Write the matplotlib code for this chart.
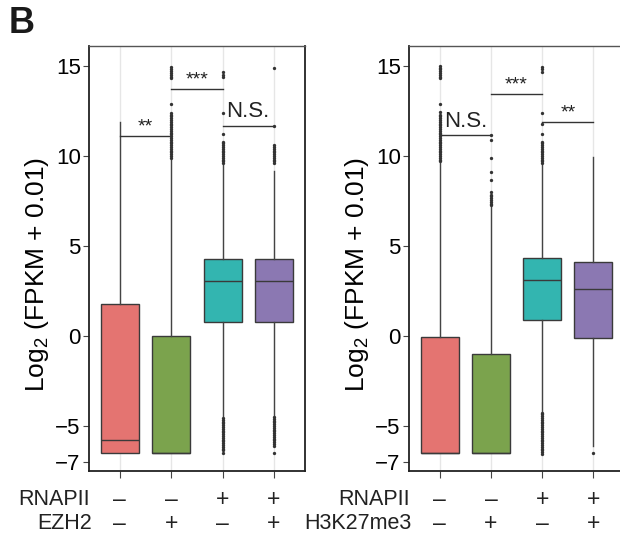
import matplotlib
matplotlib.use("Agg")
import matplotlib.pyplot as plt
import matplotlib.transforms as mtransforms

plt.rcParams["font.family"] = ["Liberation Sans", "DejaVu Sans"]
plt.rcParams["mathtext.fontset"] = "custom"
plt.rcParams["mathtext.rm"] = "Liberation Sans"
plt.rcParams["mathtext.it"] = "Liberation Sans:italic"

colors = ["#e47471", "#7ba34d", "#33b5b0", "#8b78b2"]
row1_signs = ["–", "–", "+", "+"]
row2_signs = ["–", "+", "–", "+"]

# panel 1: RNAPII x EZH2
p1_q1 = [-6.48, -6.48, 0.78, 0.78]
p1_med = [-5.76, -6.48, 3.04, 3.04]
p1_q3 = [1.8, 0.02, 4.3, 4.3]
p1_lo = [-6.48, -6.48, -4.45, -4.45]
p1_hi = [11.9, 9.75, 9.5, 9.17]
p1_fliers = [
    [],
    [9.9, 10.0, 10.1, 10.2, 10.3, 10.4, 10.5, 10.6, 10.7, 10.8, 10.9, 11.0,
     11.1, 11.2, 11.3, 11.4, 11.5, 11.6, 11.7, 11.8, 11.9, 12.0, 12.1, 12.2,
     12.3, 12.4, 12.87, 14.3, 14.4, 14.5, 14.6, 14.7, 14.8, 14.94],
    [-6.48, -6.35, -6.25, -6.15, -6.05, -5.95, -5.85, -5.75, -5.65, -5.55,
     -5.45, -5.35, -5.25, -5.15, -5.05, -4.95, -4.85, -4.75, -4.65, -4.55,
     9.6, 9.7, 9.8, 9.9, 10.0, 10.1, 10.2, 10.3, 10.4, 10.5, 10.6, 10.7,
     10.78, 11.24, 12.36, 14.4, 14.5, 14.67],
    [-6.48, -6.1, -6.0, -5.9, -5.8, -5.7, -5.6, -5.5, -5.4, -5.3, -5.2, -5.1,
     -5.0, -4.9, -4.8, -4.7, -4.6, -4.5,
     9.6, 9.7, 9.8, 9.9, 10.0, 10.1, 10.2, 10.3, 10.4, 10.5, 10.6,
     11.67, 14.9],
]
p1_brackets = [(1, 2, 11.08, "**"), (2, 3, 13.69, "***"), (3, 4, 11.67, "N.S.")]
p1_row2 = "EZH2"

# panel 2: RNAPII x H3K27me3
p2_q1 = [-6.48, -6.48, 0.91, -0.09]
p2_med = [-6.48, -6.48, 3.13, 2.59]
p2_q3 = [-0.07, -1.0, 4.35, 4.09]
p2_lo = [-6.48, -6.48, -4.2, -6.1]
p2_hi = [9.6, 7.17, 9.5, 9.94]
p2_fliers = [
    [9.7, 9.8, 9.9, 10.0, 10.1, 10.2, 10.3, 10.4, 10.5, 10.6, 10.7, 10.8,
     10.9, 11.0, 11.1, 11.2, 11.3, 11.4, 11.5, 11.6, 11.7, 11.8, 11.9, 12.0,
     12.1, 12.2, 12.3, 12.44, 12.87, 14.3, 14.4, 14.5, 14.6, 14.7, 14.8,
     14.9, 15.0],
    [7.25, 7.35, 7.45, 7.55, 7.65, 7.75, 7.85, 8.0, 8.65, 9.11, 9.86, 10.87,
     11.15],
    [-6.53, -6.45, -6.35, -6.25, -6.15, -6.05, -5.95, -5.85, -5.75, -5.65,
     -5.55, -5.45, -5.35, -5.25, -5.15, -5.05, -4.95, -4.85, -4.75, -4.65,
     -4.55, -4.45, -4.35, -4.25,
     9.6, 9.7, 9.8, 9.9, 10.0, 10.1, 10.2, 10.3, 10.4, 10.5, 10.6, 10.7,
     10.78, 11.24, 11.8, 12.39, 14.67, 14.8, 14.94],
    [-6.48],
]
p2_brackets = [(1, 2, 11.15, "N.S."), (2, 3, 13.44, "***"), (3, 4, 11.86, "**")]
p2_row2 = "H3K27me3"

yticks = [-7, -5, 0, 5, 10, 15]


def draw_panel(ax, q1, med, q3, lo, hi, fliers, brackets, row2_name):
    stats = []
    for i in range(4):
        stats.append({"q1": q1[i], "med": med[i], "q3": q3[i],
                      "whislo": lo[i], "whishi": hi[i], "fliers": fliers[i]})
    for x in range(1, 5):
        ax.axvline(x, color="#e6e6e6", lw=1.0, zorder=0)
    bp = ax.bxp(stats, positions=[1, 2, 3, 4], widths=0.74, patch_artist=True,
                showcaps=False,
                boxprops=dict(edgecolor="#3a3a3a", linewidth=1.0),
                medianprops=dict(color="#3a3a3a", linewidth=1.0),
                whiskerprops=dict(color="#444444", linewidth=1.0),
                flierprops=dict(marker="o", markersize=2.4,
                                markerfacecolor="#333333",
                                markeredgecolor="none"))
    for patch, c in zip(bp["boxes"], colors):
        patch.set_facecolor(c)
    for x0, x1, y, label in brackets:
        ax.plot([x0, x1], [y, y], color="#333333", lw=1.0)
        if label == "N.S.":
            ax.text((x0 + x1) / 2, y + 0.2, label, ha="center", va="bottom",
                    fontsize=16, color="#222222")
        else:
            ax.text((x0 + x1) / 2, y + 0.05, label, ha="center", va="bottom",
                    fontsize=14, color="#222222")
    ax.set_xlim(0.4, 4.6)
    ax.set_ylim(-7.5, 16.1)
    ax.set_yticks(yticks)
    ax.set_yticklabels([str(v).replace("-", "\u2212") for v in yticks])
    ax.set_xticks([1, 2, 3, 4])
    ax.set_xticklabels([])
    ax.tick_params(axis="y", labelsize=16, length=4, width=0.8,
                   color="#444444", pad=2)
    ax.tick_params(axis="x", length=5, width=0.8, color="#444444")
    for s in ax.spines.values():
        s.set_color("#222222")
        s.set_linewidth(1.3)
    ax.spines["top"].set_color("#555555")
    ax.spines["top"].set_linewidth(1.0)
    ax.set_ylabel("Log$_2$ (FPKM + 0.01)", fontsize=19, labelpad=3)
    ax.yaxis.label.set_y(0.462)
    trans = mtransforms.blended_transform_factory(ax.transData, ax.transAxes)
    for i in range(4):
        ax.text(i + 1, -0.066, row1_signs[i], transform=trans, ha="center",
                va="center", fontsize=16.5, color="#222222")
        ax.text(i + 1, -0.1235, row2_signs[i], transform=trans, ha="center",
                va="center", fontsize=16.5, color="#222222")
    ax.text(0.002, -0.066, "RNAPII", transform=ax.transAxes, ha="right",
            va="center", fontsize=15.5, color="#222222")
    ax.text(0.012, -0.1235, row2_name, transform=ax.transAxes, ha="right",
            va="center", fontsize=15.5, color="#222222")


fig = plt.figure(figsize=(6.2, 5.39), dpi=100)
ax1 = fig.add_axes([0.1435, 0.126, 0.348, 0.7885])
ax2 = fig.add_axes([0.6597, 0.126, 0.347, 0.7885])

draw_panel(ax1, p1_q1, p1_med, p1_q3, p1_lo, p1_hi, p1_fliers, p1_brackets,
           p1_row2)
draw_panel(ax2, p2_q1, p2_med, p2_q3, p2_lo, p2_hi, p2_fliers, p2_brackets,
           p2_row2)

fig.text(0.014, 0.957, "B", fontsize=26, fontweight="bold", va="center",
         ha="left", color="#1a1a1a")

fig.savefig("out.png", dpi=100)
